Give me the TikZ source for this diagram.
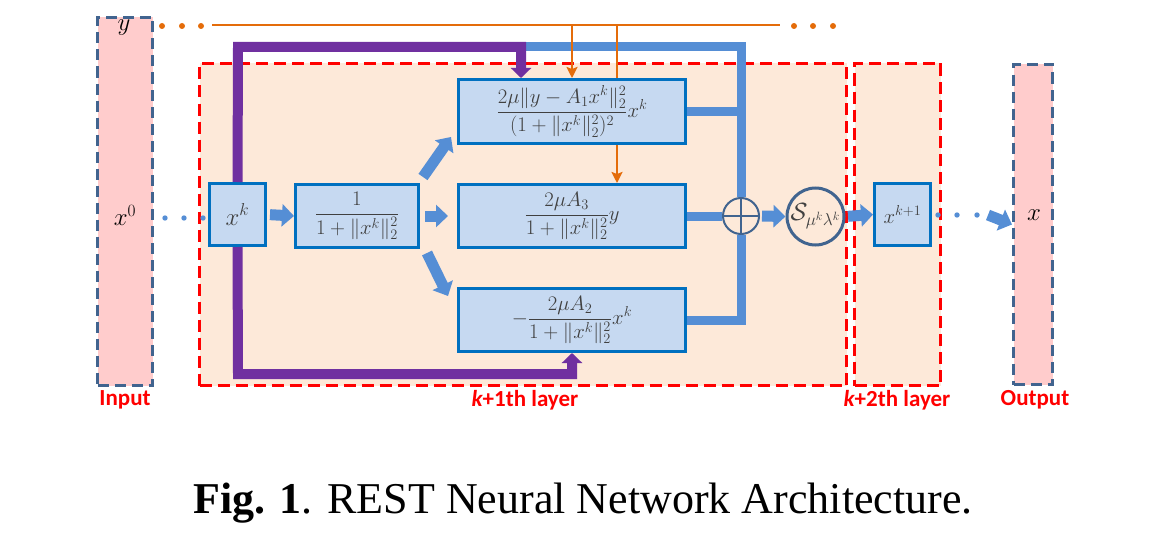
\documentclass[tikz,border=0pt]{standalone}
\usepackage{amsmath}
\usepackage[no-math]{fontspec}
\setmainfont{Liberation Serif}
\newfontfamily\lblfont{Carlito}
\usetikzlibrary{arrows.meta}
\definecolor{pinkfill}{HTML}{FFCCCC}
\definecolor{frameblue}{HTML}{41648F}
\definecolor{layfill}{HTML}{FDE9D9}
\definecolor{boxfill}{HTML}{C6D9F1}
\definecolor{boxedge}{HTML}{0070C0}
\definecolor{arrblue}{HTML}{558ED5}
\definecolor{purp}{HTML}{7030A0}
\definecolor{orng}{HTML}{E46C0A}
\definecolor{txtgray}{HTML}{404040}
\tikzset{
  frame/.style={draw=frameblue, line width=3pt, dash pattern=on 11pt off 6pt, fill=pinkfill, inner sep=0pt},
  layer/.style={draw=red, line width=3pt, dash pattern=on 12pt off 6pt, fill=layfill, inner sep=0pt},
  blk/.style={draw=boxedge, fill=boxfill, line width=3pt, inner sep=0pt, text=txtgray, font=\fontsize{20}{24}\selectfont},
  fat/.style={arrblue, line width=11pt, -{Triangle[length=12pt,width=22pt]}},
  fatline/.style={draw=arrblue, line width=9pt, line join=miter},
  purpl/.style={draw=purp, line width=10pt, line join=miter, -{Triangle[length=10pt,width=20pt]}},
  orline/.style={draw=orng, line width=2.7pt},
  ortip/.style={-{Stealth[length=11pt,width=11pt,inset=2pt]}},
  lbl/.style={text=red, font=\lblfont\bfseries\fontsize{23}{26}\selectfont, inner sep=0pt},
  vlab/.style={font=\fontsize{24}{28}\selectfont, inner sep=0pt},
}
\begin{document}
\begin{tikzpicture}[x=1pt,y=-1pt]
\useasboundingbox (0,0) rectangle (1175,535);
% frames
\node[frame, minimum width=55pt, minimum height=368pt] (inp) at (125,201.5) {};
\node[layer, minimum width=647pt, minimum height=322pt] (lay1) at (523,224.5) {};
\node[layer, minimum width=86pt, minimum height=322pt] (lay2) at (897.5,224.5) {};
\node[frame, minimum width=39pt, minimum height=320pt] (outp) at (1033,224.5) {};
% labels in frames
\node[vlab] (ylab) at (124,28) {$y$};
\node[vlab] (x0lab) at (125,215) {$x^0$};
\node[vlab] (xlab) at (1034,215) {$x$};
% blocks
\node[blk, minimum width=56pt, minimum height=62pt, font=\fontsize{23}{26}\selectfont] (xk) at (237.5,214.5) {$x^k$};
\node[blk, minimum width=123pt, minimum height=63pt] (inv) at (357,216) {$\dfrac{1}{1+\|x^k\|_2^2}$};
\node[blk, minimum width=227pt, minimum height=64pt] (top) at (572,111.5) {$\dfrac{2\mu\|y-A_1x^k\|_2^2}{(1+\|x^k\|_2^2)^2}x^k$};
\node[blk, minimum width=227pt, minimum height=63pt] (mid) at (572,216) {$\dfrac{2\mu A_3}{1+\|x^k\|_2^2}y$};
\node[blk, minimum width=227pt, minimum height=63pt] (bot) at (572,320) {$-\dfrac{2\mu A_2}{1+\|x^k\|_2^2}x^k$};
\node[draw=frameblue, line width=2pt, circle, minimum size=36pt, inner sep=0pt] (plus) at (741,216) {};
\node[draw=frameblue, line width=3pt, circle, minimum size=57pt, inner sep=0pt, text=txtgray, font=\fontsize{24}{28}\selectfont] (S) at (815.5,216.5) {$\mathcal{S}_{\mu^k\lambda^k}$};
\node[blk, minimum width=56pt, minimum height=62pt, font=\fontsize{22}{26}\selectfont] (xk1) at (902.5,214.5) {$x^{k+1}$};
% blue thick lines
\draw[fatline] (plus.north) -- (741,47) -- (526,47);
\draw[fatline] (top.east) -- (741,0 |- top.east);
\draw[fatline] (mid.east) -- (plus.west);
\draw[fatline] (bot.east) -- (741,0 |- bot.east) -- (plus.south);
\draw[frameblue, line width=1.5pt] (plus.north) -- (plus.south) (plus.west) -- (plus.east);
% purple paths
\draw[purpl] (xk.north) -- (238,47) -- (521,47) -- (521,0 |- top.north);
\draw[purpl] (xk.south) -- (238,374) -- (572,374) -- (bot.south);
% fat arrows
\coordinate (du1) at (423,177);
\coordinate (du2) at (451,137);
\coordinate (dd1) at (427,253);
\coordinate (dd2) at (448,296);
\coordinate (od) at (988,215);
\draw[fat, shorten <=3pt] (xk.east) -- (inv.west);
\draw[fat, shorten <=5pt, shorten >=9pt] (inv.east) -- (mid.west);
\draw[fat] (du1) -- (du2);
\draw[fat] (dd1) -- (dd2);
\draw[fat, shorten <=2pt] (plus.east) -- (S.west);
\draw[fat, shorten <=2.5pt] (S.east) -- (xk1.west);
\draw[fat] (od) -- (outp.west);
% blue dots
\foreach \xx in {165,184,203} \fill[arrblue] (\xx,218) circle (2.7pt);
\foreach \xx in {938,957,977} \fill[arrblue] (\xx,215) circle (2.7pt);
% orange
\draw[orline] (212,25) -- (780,25);
\foreach \xx in {162,182,201,794,813,833} \fill[orng] (\xx,26) circle (3pt);
\draw[orline, ortip] (572,25) -- (top.north);
\draw[orline] (617,25) -- (617,0 |- top.north);
\draw[orline, ortip] (617,0 |- top.south) -- (617,0 |- mid.north);
% bottom labels
\node[lbl] (linp) at (125,400) {Input};
\node[lbl] (llay1) at (525,400) {\itshape k\upshape+1th layer};
\node[lbl] (llay2) at (897,400) {\itshape k\upshape+2th layer};
\node[lbl] (lout) at (1035,400) {Output};
% caption
\node[anchor=base, inner sep=0pt, font=\fontsize{44}{50}\selectfont] (cap) at (583,513) {\textbf{Fig. 1}. REST Neural Network Architecture.};
\end{tikzpicture}
\end{document}
